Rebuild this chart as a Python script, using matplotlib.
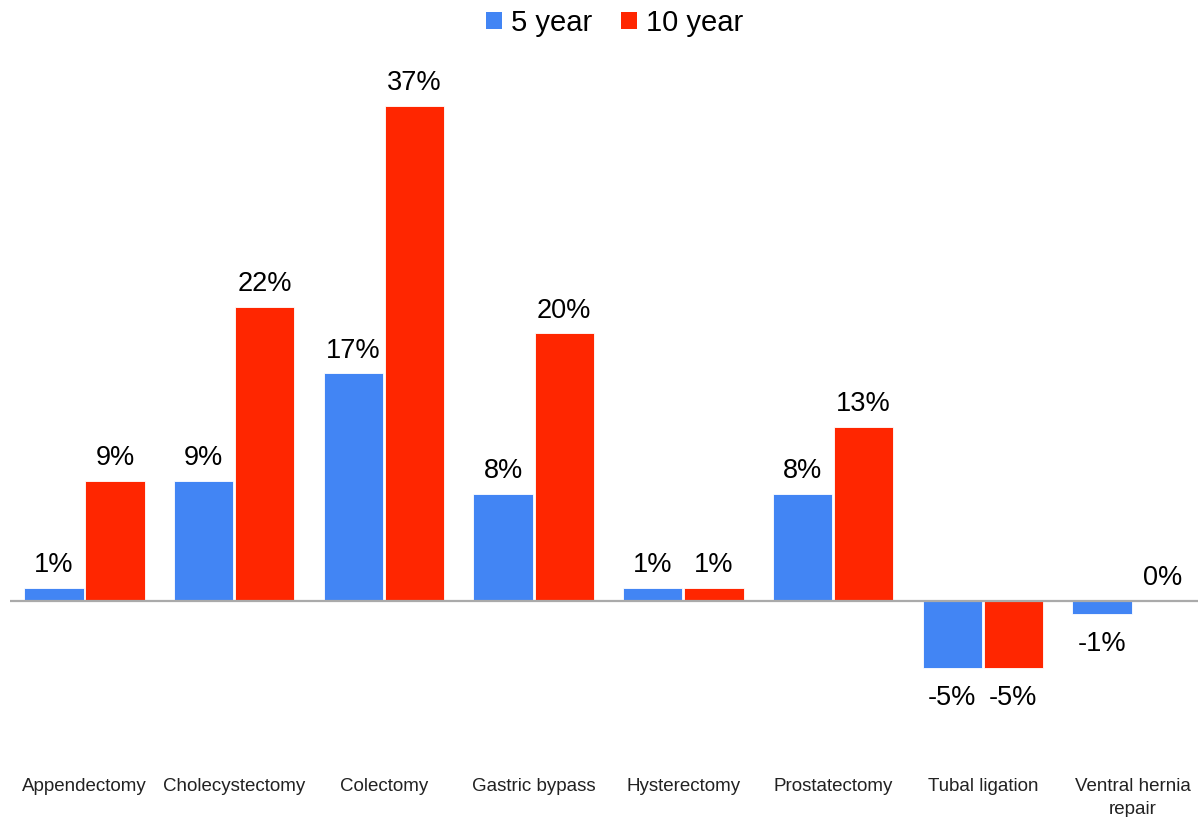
import numpy as np
import matplotlib.pyplot as plt
from matplotlib.patches import Patch

# --- Data ---
kategorier = ["Appendectomy", "Cholecystectomy", "Colectomy", "Gastric bypass",
              "Hysterectomy", "Prostatectomy", "Tubal ligation", "Ventral hernia\nrepair"]
fem_aar = [1, 9, 17, 8, 1, 8, -5, -1]
ti_aar = [9, 22, 37, 20, 1, 13, -5, 0]
serier = ["5 year", "10 year"]

BLA = "#4285f4"
ROD = "#ff2600"

plt.rcParams['font.family'] = ['Liberation Sans', 'DejaVu Sans']

fig = plt.figure(figsize=(11.98, 8.17), dpi=100)
ax = fig.add_axes([0.0081, 0.1432, 0.9997, 0.7834])

x = np.arange(len(kategorier))
b = 0.396
dx = 0.204
ax.bar(x - dx, fem_aar, b, color=BLA, edgecolor='white', linewidth=0.6)
ax.bar(x + dx, ti_aar, b, color=ROD, edgecolor='white', linewidth=0.6)

def etiketter(verdier, forskyv):
    for i, v in enumerate(verdier):
        xi = x[i] + forskyv
        if v < 0:
            ax.annotate(f"{v}%", (xi, v), xytext=(0, -12), textcoords='offset points',
                        ha='center', va='top', fontsize=19.5)
        else:
            ax.annotate(f"{v}%", (xi, v), xytext=(0, 7), textcoords='offset points',
                        ha='center', va='bottom', fontsize=19.5)

etiketter(fem_aar, -dx)
etiketter(ti_aar, dx)

ax.axhline(0, color='#aaaaaa', linewidth=1.6, zorder=3)
ax.set_xlim(-0.5, len(kategorier) - 0.5)
ax.set_ylim(-7.4, 40.43)
ax.set_xticks(x)
ax.set_xticklabels(kategorier, fontsize=13.5, color='#222222', linespacing=1.45)
ax.tick_params(axis='x', length=0, pad=56)
ax.set_yticks([])
for sp in ax.spines.values():
    sp.set_visible(False)

handles = [Patch(facecolor=BLA), Patch(facecolor=ROD)]
fig.legend(handles, serier, loc='center', bbox_to_anchor=(0.513, 0.972), ncol=2,
           frameon=False, fontsize=21, handlelength=0.55, handleheight=0.55,
           handletextpad=0.3, columnspacing=1.0)

fig.savefig("out.png", dpi=100)
